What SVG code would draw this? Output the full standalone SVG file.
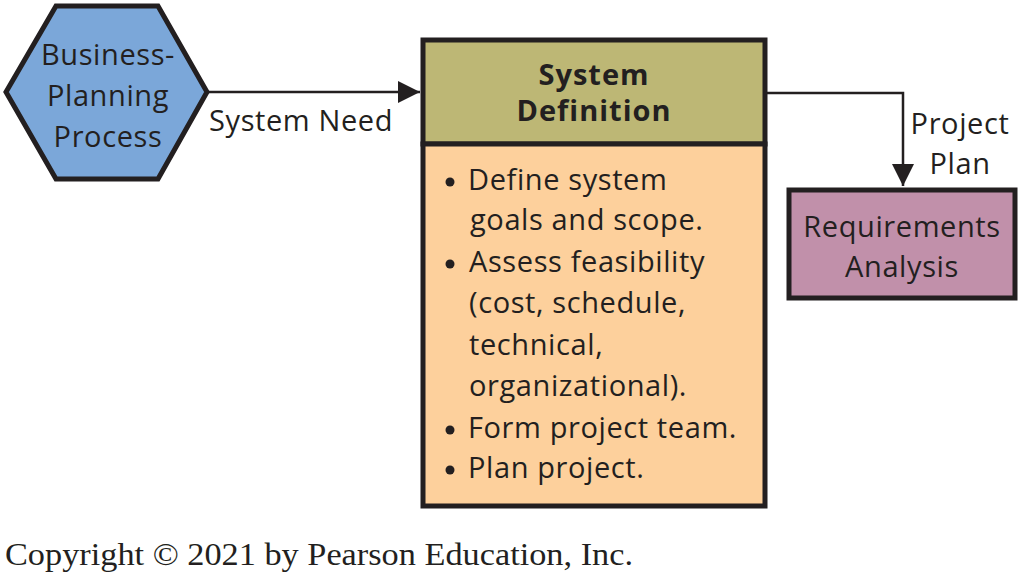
<svg xmlns="http://www.w3.org/2000/svg" width="1020" height="578" viewBox="0 0 1020 578">
<style>
.t{font-family:"Open Sans","Noto Sans",sans-serif;font-size:29px;letter-spacing:0.6px;fill:#231f20}
.b{font-weight:bold;letter-spacing:1px}
.ln{stroke:#231f20;stroke-width:2.5;fill:none}
.bx{stroke:#231f20;stroke-width:5}
</style>
<defs>
<marker id="ah" markerUnits="userSpaceOnUse" markerWidth="24" markerHeight="24" refX="22" refY="11" orient="auto">
<path d="M0,0 L22,11 L0,22 Z" fill="#231f20"/>
</marker>
</defs>
<rect width="1020" height="578" fill="#fff"/>
<g id="connectors">
<line class="ln" x1="208" y1="92" x2="420" y2="92" marker-end="url(#ah)"/>
<polyline class="ln" points="767,93 903,93 903,186" marker-end="url(#ah)"/>
<text class="t" x="301" y="131" text-anchor="middle">System Need</text>
<text class="t" x="960" y="134" text-anchor="middle">Project</text>
<text class="t" x="960" y="174" text-anchor="middle">Plan</text>
</g>
<g id="business-planning">
<polygon class="bx" points="6,92 56,6 158,6 207,92 158,179 56,179" fill="#7ba7d9" stroke-linejoin="miter"/>
<text class="t" x="108" y="65" text-anchor="middle">Business-</text>
<text class="t" x="108" y="106" text-anchor="middle">Planning</text>
<text class="t" x="108" y="147" text-anchor="middle">Process</text>
</g>
<g id="system-definition">
<rect class="bx" x="423" y="40" width="342" height="104" fill="#bdb775"/>
<rect class="bx" x="423" y="144" width="342" height="362" fill="#fdd09c"/>
<text class="t b" x="594" y="85" text-anchor="middle">System</text>
<text class="t b" x="594" y="121" text-anchor="middle">Definition</text>
<circle cx="450" cy="182" r="4.5" fill="#231f20"/>
<text class="t" x="468" y="190">Define system</text>
<text class="t" x="470" y="230">goals and scope.</text>
<circle cx="450" cy="264" r="4.5" fill="#231f20"/>
<text class="t" x="469" y="272">Assess feasibility</text>
<text class="t" x="469" y="313">(cost, schedule,</text>
<text class="t" x="469" y="355">technical,</text>
<text class="t" x="469" y="396">organizational).</text>
<circle cx="450" cy="430" r="4.5" fill="#231f20"/>
<text class="t" x="468" y="438">Form project team.</text>
<circle cx="450" cy="470" r="4.5" fill="#231f20"/>
<text class="t" x="468" y="478">Plan project.</text>
</g>
<g id="requirements-analysis">
<rect class="bx" x="789" y="190" width="226" height="108" fill="#c190aa"/>
<text class="t" x="902" y="237" text-anchor="middle">Requirements</text>
<text class="t" x="902" y="277" text-anchor="middle">Analysis</text>
</g>
<text x="5" y="565" font-family="Liberation Serif,serif" font-size="32" textLength="628" lengthAdjust="spacingAndGlyphs" fill="#231f20">Copyright © 2021 by Pearson Education, Inc.</text>
</svg>
